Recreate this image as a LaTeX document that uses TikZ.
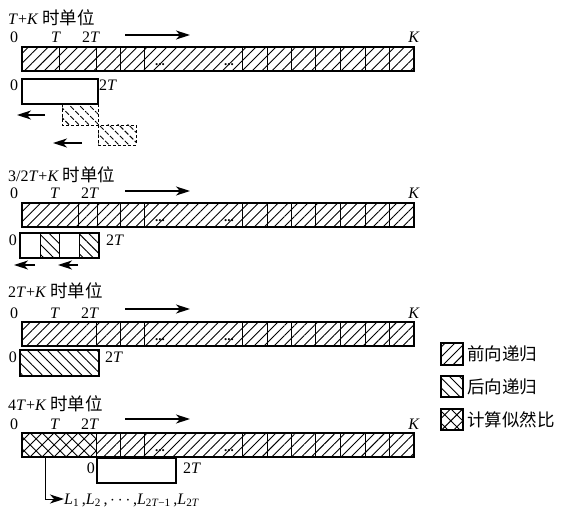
\documentclass[tikz,border=0pt]{standalone}
\usepackage{fontspec}
\setmainfont{Liberation Serif}
\newfontfamily\cjk{Noto Sans CJK SC}
\usetikzlibrary{patterns.meta,arrows.meta}
\newcommand{\cj}[1]{{\cjk\fontsize{17.5}{17.5}\selectfont #1}}
\begin{document}
\begin{tikzpicture}[x=1pt,y=1pt,
  lab/.style={font=\fontsize{16}{16}\selectfont, inner sep=0pt, anchor=base},
  ttl/.style={font=\fontsize{16}{16}\selectfont, inner sep=0pt, anchor=base west},
  bar/.style={draw, line width=1.1pt},
  fwd/.style={pattern={Lines[angle=45,distance=7pt,line width=0.9pt]}},
  bwd/.style={pattern={Lines[angle=-45,distance=7pt,line width=0.9pt]}},
  crs/.style={pattern={Hatch[angle=45,distance=8.5pt,line width=0.9pt]}},
  arr/.style={-{Stealth[length=14pt,width=9pt,inset=4pt]}, line width=1.2pt},
  dotsn/.style={font=\fontsize{13}{13}\selectfont\bfseries, inner sep=0pt},
  dsh/.style={draw, line width=0.9pt, dash pattern=on 3pt off 2pt}
]
\useasboundingbox (0,0) rectangle (563,-511);

% ---------------- Section 1 ----------------
\node[ttl] (t1) at (8,-25) {\textit{T}+\textit{K} \cj{时单位}};
\node[lab] (a0) at (14,-43) {0};
\node[lab] (aT) at (56,-43) {\textit{T}};
\node[lab] (a2T) at (91,-43) {2\textit{T}};
\node[lab] (aK) at (414,-43) {\textit{K}};
\coordinate (ar1s) at (125,-35); \coordinate (ar1e) at (190,-35);
\draw[arr] (ar1s) -- (ar1e);
\draw[bar,fwd] (22,-47) rectangle (414,-71);
\foreach \x in {59,96,120,144,242,267,291,315,340,365,389} \draw[line width=0.9pt] (\x,-47) -- (\x,-71);
\node[dotsn] (d1a) at (160,-65) {...};
\node[dotsn] (d1b) at (229,-65) {...};
\draw[bar,fill=white] (22,-79) rectangle (98,-104);
\node[lab] (b0) at (14,-91) {0};
\node[lab,anchor=base west] (b2T) at (99,-91) {2\textit{T}};
\draw[dsh,bwd] (62,-104) rectangle (98,-125);
\draw[dsh,bwd] (98,-125) rectangle (136,-145);
\coordinate (ar2s) at (45,-115); \coordinate (ar2e) at (17,-115);
\draw[arr] (ar2s) -- (ar2e);
\coordinate (ar3s) at (82,-143); \coordinate (ar3e) at (53,-143);
\draw[arr] (ar3s) -- (ar3e);

% ---------------- Section 2 ----------------
\node[ttl] (t2) at (8,-182) {3/2\textit{T}+\textit{K} \cj{时单位}};
\node[lab] (c0) at (14,-198) {0};
\node[lab] (cT) at (55,-198) {\textit{T}};
\node[lab] (c2T) at (90,-198) {2\textit{T}};
\node[lab] (cK) at (414,-198) {\textit{K}};
\coordinate (ar4s) at (125,-191); \coordinate (ar4e) at (190,-191);
\draw[arr] (ar4s) -- (ar4e);
\draw[bar,fwd] (22,-203) rectangle (414,-227);
\foreach \x in {78,97,120,144,242,267,291,315,340,365,389} \draw[line width=0.9pt] (\x,-203) -- (\x,-227);
\node[dotsn] (d2a) at (160,-221) {...};
\node[dotsn] (d2b) at (229,-221) {...};
\draw[bwd] (40,-233) rectangle (59,-258);
\draw[bwd] (79,-233) rectangle (99,-258);
\draw[bar] (20,-233) rectangle (99,-258);
\foreach \x in {40,59,79} \draw[line width=0.9pt] (\x,-233) -- (\x,-258);
\node[lab] (e0) at (13,-245) {0};
\node[lab,anchor=base west] (e2T) at (106,-245) {2\textit{T}};
\coordinate (ar5s) at (35,-265); \coordinate (ar5e) at (14,-265);
\draw[arr] (ar5s) -- (ar5e);
\coordinate (ar6s) at (78,-265); \coordinate (ar6e) at (58,-265);
\draw[arr] (ar6s) -- (ar6e);

% ---------------- Section 3 ----------------
\node[ttl] (t3) at (8,-297) {2\textit{T}+\textit{K} \cj{时单位}};
\node[lab] (f0) at (14,-318) {0};
\node[lab] (fT) at (55,-318) {\textit{T}};
\node[lab] (f2T) at (90,-318) {2\textit{T}};
\node[lab] (fK) at (414,-318) {\textit{K}};
\coordinate (ar7s) at (125,-309); \coordinate (ar7e) at (190,-309);
\draw[arr] (ar7s) -- (ar7e);
\draw[bar,fwd] (22,-322) rectangle (414,-346);
\foreach \x in {96,120,144,242,267,291,315,340,365,389} \draw[line width=0.9pt] (\x,-322) -- (\x,-346);
\node[dotsn] (d3a) at (160,-340) {...};
\node[dotsn] (d3b) at (229,-340) {...};
\draw[bar,bwd] (20,-350) rectangle (99,-376);
\node[lab] (g0) at (13,-362) {0};
\node[lab,anchor=base west] (g2T) at (105,-362) {2\textit{T}};

% ---------------- Section 4 ----------------
\node[ttl] (t4) at (8,-410) {4\textit{T}+\textit{K} \cj{时单位}};
\node[lab] (h0) at (14,-429) {0};
\node[lab] (hT) at (55,-429) {\textit{T}};
\node[lab] (h2T) at (90,-429) {2\textit{T}};
\node[lab] (hK) at (414,-429) {\textit{K}};
\coordinate (ar8s) at (125,-419); \coordinate (ar8e) at (190,-419);
\draw[arr] (ar8s) -- (ar8e);
\draw[crs] (22,-433) rectangle (96,-457);
\draw[fwd] (96,-433) rectangle (414,-457);
\draw[bar] (22,-433) rectangle (414,-457);
\foreach \x in {96,120,144,242,267,291,315,340,365,389} \draw[line width=0.9pt] (\x,-433) -- (\x,-457);
\node[dotsn] (d4a) at (160,-451) {...};
\node[dotsn] (d4b) at (229,-451) {...};
\draw[bar,fill=white] (97,-458) rectangle (176,-483);
\node[lab,anchor=base east] (i0) at (95,-473) {0};
\node[lab,anchor=base west] (i2T) at (183,-473) {2\textit{T}};
\coordinate (lstart) at (45,-458);
\node[lab,anchor=base west] (Ltext) at (64,-504) {\textit{L}\textsubscript{1}\,,\textit{L}\textsubscript{2}\,,\,$\cdots$\,,\textit{L}\textsubscript{2\textit{T}−1}\,,\textit{L}\textsubscript{2\textit{T}}};
\coordinate (lend) at (64,-499);
\draw[arr,line width=1pt] (lstart) |- (lend);

% ---------------- Legend ----------------
\draw[bar,fwd] (441,-343) rectangle (463,-365);
\node[anchor=west,inner sep=0pt] (lg1) at (467,-354) {\cj{前向递归}};
\draw[bar,bwd] (441,-376) rectangle (463,-397);
\node[anchor=west,inner sep=0pt] (lg2) at (467,-386.5) {\cj{后向递归}};
\draw[bar,crs] (441,-409) rectangle (463,-430);
\node[anchor=west,inner sep=0pt] (lg3) at (467,-419.5) {\cj{计算似然比}};
\end{tikzpicture}
\end{document}
